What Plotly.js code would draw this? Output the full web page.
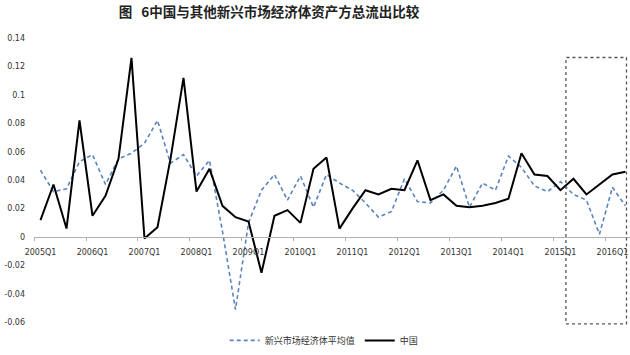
<!DOCTYPE html>
<html>
<head>
<meta charset="utf-8">
<script src="https://cdn.plot.ly/plotly-3.0.1.min.js"></script>
<style>html,body{margin:0;padding:0;background:#fff;}#chart{width:630px;height:355px;}</style>
</head>
<body>
<div id="chart"></div>
<script>
const quarters = [
  "2005Q1","2005Q2","2005Q3","2005Q4","2006Q1","2006Q2","2006Q3","2006Q4",
  "2007Q1","2007Q2","2007Q3","2007Q4","2008Q1","2008Q2","2008Q3","2008Q4",
  "2009Q1","2009Q2","2009Q3","2009Q4","2010Q1","2010Q2","2010Q3","2010Q4",
  "2011Q1","2011Q2","2011Q3","2011Q4","2012Q1","2012Q2","2012Q3","2012Q4",
  "2013Q1","2013Q2","2013Q3","2013Q4","2014Q1","2014Q2","2014Q3","2014Q4",
  "2015Q1","2015Q2","2015Q3","2015Q4","2016Q1","2016Q2"
];
const emergingAvg = [
  0.047,0.032,0.034,0.053,0.058,0.037,0.055,0.059,
  0.066,0.082,0.052,0.058,0.043,0.054,0.004,-0.051,
  0.010,0.033,0.044,0.026,0.043,0.021,0.044,0.038,
  0.033,0.024,0.014,0.018,0.041,0.025,0.024,0.033,
  0.050,0.021,0.038,0.033,0.057,0.049,0.036,0.032,
  0.039,0.030,0.026,0.002,0.035,0.022
];
const china = [
  0.012,0.037,0.006,0.082,0.015,0.029,0.055,0.126,
  -0.001,0.007,0.055,0.112,0.032,0.048,0.022,0.014,
  0.011,-0.025,0.015,0.019,0.010,0.048,0.056,0.006,
  0.020,0.033,0.030,0.034,0.033,0.054,0.026,0.030,
  0.022,0.021,0.022,0.024,0.027,0.059,0.044,0.043,
  0.033,0.041,0.030,0.037,0.044,0.046
];
const yTickVals = [-0.06,-0.04,-0.02,0,0.02,0.04,0.06,0.08,0.1,0.12,0.14];
const yTickText = ["-0.06","-0.04","-0.02","0","0.02","0.04","0.06","0.08","0.1","0.12","0.14"];
const seriesNames = ["新兴市场经济体平均值","中国"];

const yMin = -0.0625, yMax = 0.14;

const traces = [
  {x: quarters, y: emergingAvg, name: seriesNames[0], type: "scatter", mode: "lines",
   line: {color: "#5a84bd", width: 1.6, dash: "4px,3px"}},
  {x: quarters, y: china, name: seriesNames[1], type: "scatter", mode: "lines",
   line: {color: "#000000", width: 2}}
];

const layout = {
  width: 630, height: 355,
  margin: {l: 34, r: 0, t: 38, b: 24},
  paper_bgcolor: "#ffffff", plot_bgcolor: "#ffffff",
  font: {family: "DejaVu Sans, sans-serif", size: 8, color: "#333333"},
  title: {text: "图\u00a0\u00a0\u00a06中国与其他新兴市场经济体资产方总流出比较",
    font: {family: "Noto Sans CJK SC, sans-serif", size: 13.5, color: "#222222", weight: "bold"},
    xref: "container", x: 0.427, xanchor: "center", yref: "container", y: 0.966, yanchor: "middle"},
  xaxis: {
    type: "category", range: [-0.5, 45.35],
    anchor: "free", position: (0 - yMin) / (yMax - yMin),
    showline: true, linecolor: "#b0b0b0", linewidth: 1,
    showgrid: false, zeroline: false,
    tickmode: "linear", tick0: 0, dtick: 4, tickson: "boundaries",
    ticks: "outside", ticklen: 3, tickcolor: "#b0b0b0",
    ticklabelstandoff: 7,
    tickangle: 0, tickfont: {size: 8, color: "#333333"}
  },
  yaxis: {
    range: [yMin, yMax], showline: false, showgrid: false, zeroline: false,
    tickmode: "array", tickvals: yTickVals, ticktext: yTickText,
    ticks: "", ticklabelstandoff: 8, tickfont: {size: 8, color: "#333333"}
  },
  showlegend: true,
  legend: {orientation: "h", x: 0.32, xanchor: "left", y: -0.05, yanchor: "middle",
    font: {family: "Noto Sans CJK SC, sans-serif", size: 9, color: "#333333"},
    itemwidth: 30, bgcolor: "rgba(0,0,0,0)"},
  shapes: [
    {type: "rect", xref: "x", yref: "y", x0: 40.42, x1: 45.08, y0: -0.061, y1: 0.1263,
     line: {color: "#555555", width: 1.3, dash: "dot"}, fillcolor: "rgba(0,0,0,0)"}
  ]
};

Plotly.newPlot("chart", traces, layout, {displayModeBar: false, staticPlot: true});
</script>
</body>
</html>
